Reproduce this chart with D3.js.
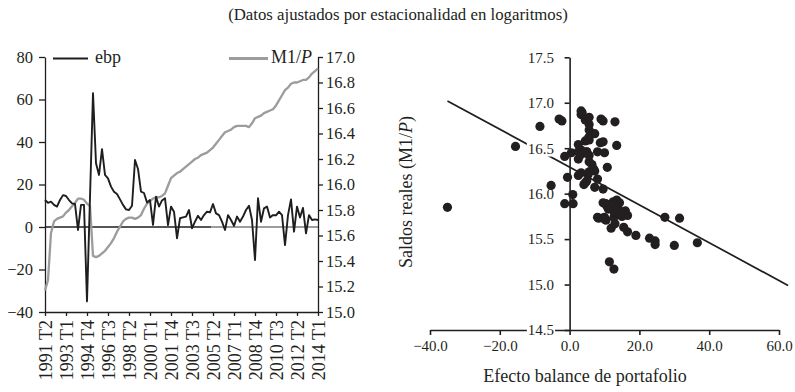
<!DOCTYPE html>
<html><head><meta charset="utf-8">
<script src="https://cdn.jsdelivr.net/npm/d3@7"></script>
<style>
body{margin:0;background:#fff;}
svg{display:block;}
</style></head><body>
<svg id="c" width="795" height="392"></svg>
<script>
// ---- data ----
const firstYear = 1991, firstQuarter = 2, nQuarters = 92;
const quarters = [];
for (let k = 0; k < nQuarters; k++) {
  const q = firstQuarter - 1 + k;
  quarters.push((firstYear + Math.floor(q / 4)) + " T" + (q % 4 + 1));
}
const tickLabels = ["1991 T2","1993 T1","1994 T4","1996 T3","1998 T2","2000 T1","2001 T4",
  "2003 T3","2005 T2","2007 T1","2008 T4","2010 T3","2012 T2","2014 T1"];
const ebp = [
  12.7, 11.4, 11.9, 10.4, 9.6, 12.7, 15.0, 14.6, 12.7, 11.1,
  10.8, -1.4, 10.4, 10.4, -35.0, 14.0, 63.0, 30.0, 24.5, 36.6,
  24.5, 22.9, 19.0, 16.6, 15.5, 13.0, 10.4, 8.3, 8.0, 10.0,
  31.5, 27.3, 16.6, 16.0, 11.5, 12.7, 1.0, 14.3, 9.6, 12.5,
  13.5, 0.9, 9.6, 7.2, -5.3, 4.1, 4.5, 4.9, 8.0, -0.6,
  2.5, 5.3, 3.3, 5.6, 7.2, 6.9, 10.8, 6.4, 5.6, 2.5,
  -1.4, 5.6, 3.3, 0.5, 4.9, 2.5, 4.9, 8.0, 10.0, 3.3,
  -15.5, 13.5, 2.5, 8.8, 9.6, 4.5, 5.6, 5.5, 7.2, 5.6,
  -8.5, 5.6, 13.0, -2.2, 9.6, 4.5, 9.0, -3.0, 5.6, 3.3,
  3.6, 3.3
];
const m1p = [
  15.17, 15.25, 15.62, 15.71, 15.73, 15.74, 15.75, 15.78, 15.80, 15.83,
  15.855, 15.89, 15.89, 15.88, 15.85, 15.83, 15.44, 15.43, 15.44, 15.46,
  15.48, 15.51, 15.54, 15.58, 15.63, 15.67, 15.71, 15.73, 15.74, 15.74,
  15.73, 15.74, 15.76, 15.81, 15.85, 15.87, 15.89, 15.90, 15.90, 15.91,
  15.93, 15.99, 16.05, 16.07, 16.09, 16.10, 16.12, 16.14, 16.16, 16.18,
  16.20, 16.21, 16.23, 16.24, 16.25, 16.27, 16.29, 16.32, 16.35, 16.38,
  16.41, 16.42, 16.43, 16.45, 16.46, 16.46, 16.46, 16.46, 16.45, 16.48,
  16.52, 16.53, 16.54, 16.56, 16.57, 16.58, 16.59, 16.62, 16.66, 16.70,
  16.74, 16.76, 16.79, 16.80, 16.80, 16.81, 16.82, 16.82, 16.84, 16.87,
  16.89, 16.91
];
const leftTicks = [-40, -20, 0, 20, 40, 60, 80];
const rightTicks = [15.0, 15.2, 15.4, 15.6, 15.8, 16.0, 16.2, 16.4, 16.6, 16.8, 17.0];
const scatterXTicks = [-40, -20, 0, 20, 40, 60];
const scatterYTicks = [14.5, 15.0, 15.5, 16.0, 16.5, 17.0, 17.5];
const trendX = [-35, 62.6];
const trendY = [17.02, 14.99];
const zeroSplitQuarter = "2005 T1";

const title = "(Datos ajustados por estacionalidad en logaritmos)";
const xTitle = "Efecto balance de portafolio";

// ---- drawing ----
const svg = d3.select("#c");
const BLACK = "#1e1e1e", GRAY = "#9c9c9c", TXT = "#231f20";
const FONT = "'Liberation Serif', 'Times New Roman', serif";

svg.append("text").attr("x",398).attr("y",20).attr("fill",TXT)
  .style("font-family",FONT).attr("text-anchor","middle").style("font-size","16.8px").text(title);

// Left chart
const xL = d3.scalePoint().domain(quarters).range([45, 318]);
const yL = d3.scaleLinear().domain([-40, 80]).range([312, 57]);
const yR = d3.scaleLinear().domain([15.0, 17.0]).range([312, 57]);

const splitX = xL(zeroSplitQuarter) + xL.step() / 2;
svg.append("line").attr("x1", xL.range()[0]).attr("x2", splitX)
  .attr("y1", yL(0)).attr("y2", yL(0)).attr("stroke", BLACK).attr("stroke-width", 1.4);
svg.append("line").attr("x1", splitX).attr("x2", xL.range()[1])
  .attr("y1", yL(0)).attr("y2", yL(0)).attr("stroke", GRAY).attr("stroke-width", 2);

const gL = svg.append("g").attr("transform", "translate(45,0)")
  .call(d3.axisLeft(yL).tickValues(leftTicks).tickSize(6).tickPadding(6).tickSizeOuter(0));
const gR = svg.append("g").attr("transform", "translate(318,0)")
  .call(d3.axisRight(yR).tickValues(rightTicks).tickFormat(d3.format(".1f")).tickSize(5).tickPadding(3).tickSizeOuter(0));
const gB = svg.append("g").attr("transform", "translate(0,312)")
  .call(d3.axisBottom(xL).tickValues(tickLabels).tickSize(4).tickSizeOuter(0));
gB.selectAll(".tick text").attr("transform","rotate(-90)").attr("x",-8).attr("y",0)
  .attr("dy","0.34em").attr("text-anchor","end");
[gL, gR, gB].forEach(g => {
  g.attr("font-family", null).attr("font-size", null);
  g.selectAll("path,line").attr("stroke", BLACK).attr("stroke-width", 1.3);
  g.selectAll("text").attr("fill", TXT).style("font-family", FONT);
});
gL.selectAll("text").style("font-size","16.5px");
gR.selectAll("text").style("font-size","16.5px");
gB.selectAll("text").style("font-size","18px");

svg.append("path").datum(m1p).attr("fill","none").attr("stroke",GRAY).attr("stroke-width",2.3)
  .attr("stroke-linejoin","round")
  .attr("d", d3.line().x((d,i)=>xL(quarters[i])).y(d=>yR(d)));
svg.append("path").datum(ebp).attr("fill","none").attr("stroke",BLACK).attr("stroke-width",1.9)
  .attr("stroke-linejoin","round")
  .attr("d", d3.line().x((d,i)=>xL(quarters[i])).y(d=>yL(d)));

// legend
svg.append("line").attr("x1",53).attr("x2",88).attr("y1",58.5).attr("y2",58.5)
  .attr("stroke",BLACK).attr("stroke-width",2);
svg.append("text").attr("x",95).attr("y",63).attr("fill",TXT)
  .style("font-family",FONT).style("font-size","18px").text("ebp");
svg.append("line").attr("x1",229).attr("x2",268).attr("y1",58.5).attr("y2",58.5)
  .attr("stroke",GRAY).attr("stroke-width",3);
const lg2 = svg.append("text").attr("x",271).attr("y",63).attr("fill",TXT)
  .style("font-family",FONT).style("font-size","18px");
lg2.append("tspan").text("M1/");
lg2.append("tspan").style("font-style","italic").text("P");

// Right chart (scatter)
const xS = d3.scaleLinear().domain([-40, 60]).range([430, 779]);
const yS = d3.scaleLinear().domain([14.5, 17.5]).range([330, 57.3]);

svg.append("path").datum(trendX.map((x,i)=>[x, trendY[i]])).attr("fill","none")
  .attr("stroke",BLACK).attr("stroke-width",1.7)
  .attr("d", d3.line().x(d=>xS(d[0])).y(d=>yS(d[1])));

const gSX = svg.append("g").attr("transform", `translate(0,${yS(14.5)})`)
  .call(d3.axisBottom(xS).tickValues(scatterXTicks).tickFormat(d3.format(".1f")).tickSize(5).tickPadding(5).tickSizeOuter(0));
const gSY = svg.append("g").attr("transform", `translate(${xS(0)},0)`)
  .call(d3.axisLeft(yS).tickValues(scatterYTicks).tickFormat(d3.format(".1f")).tickSize(5).tickPadding(10.5).tickSizeOuter(0));
[gSX, gSY].forEach(g => {
  g.attr("font-family", null).attr("font-size", null);
  g.selectAll("path,line").attr("stroke", BLACK).attr("stroke-width", 1.6);
  g.selectAll("text").attr("fill", TXT).style("font-family", FONT).style("font-size","15px");
});
gSY.selectAll(".tick").each(function(){
  const t = d3.select(this).select("text");
  const b = t.node().getBBox();
  d3.select(this).insert("rect","text").attr("x",b.x-1).attr("y",b.y)
    .attr("width",b.width+2).attr("height",b.height).attr("fill","#fff");
});

const pts = ebp.map((e,i)=>({x:e, y:m1p[i]})).filter(d => d.x <= xS.domain()[1]);
svg.append("g").selectAll("circle").data(pts).join("circle")
  .attr("cx", d=>xS(d.x)).attr("cy", d=>yS(d.y)).attr("r", 4.6).attr("fill", TXT);

const yt = svg.append("text").attr("fill",TXT).style("font-family",FONT)
  .attr("transform","translate(412,192) rotate(-90)").attr("text-anchor","middle").style("font-size","18px");
yt.append("tspan").text("Saldos reales (M1/");
yt.append("tspan").style("font-style","italic").text("P");
yt.append("tspan").text(")");

svg.append("text").attr("x",585).attr("y",382).attr("fill",TXT).style("font-family",FONT)
  .attr("text-anchor","middle").style("font-size","18px").text(xTitle);
</script>
</body></html>
